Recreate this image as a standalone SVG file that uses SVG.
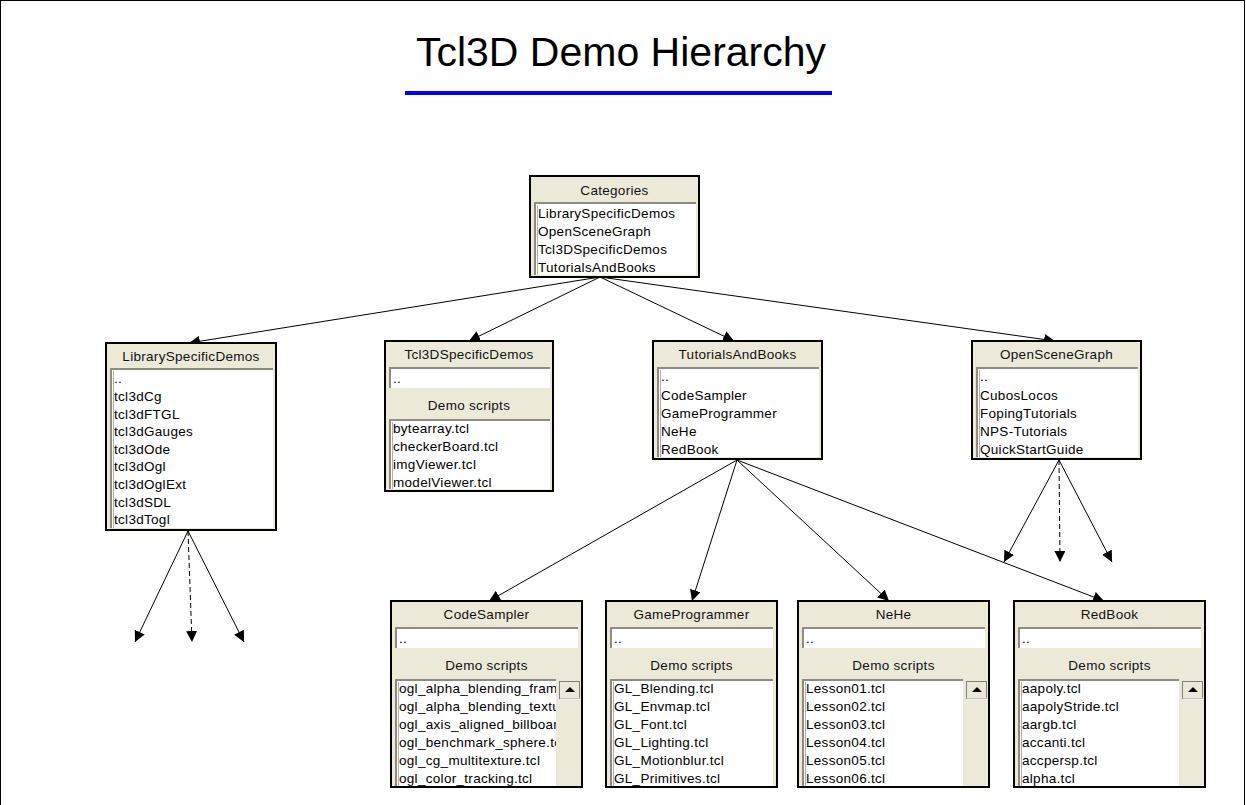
<svg xmlns="http://www.w3.org/2000/svg" width="1246" height="805" viewBox="0 0 1246 805">
<style>
.frame{fill:#fff;stroke:#000;stroke-width:1}
.box{fill:#ECE9D8;stroke:#000;stroke-width:2}
.lb{fill:#fff}
.sk{fill:none;stroke:#8E8C82;stroke-width:2}
.sk2{fill:none;stroke:#B5B2A5;stroke-width:1}
.t{font-family:"Liberation Sans",Arial,sans-serif;font-size:13.5px;letter-spacing:0.3px;fill:#000}
.h{text-anchor:middle;fill:#111}
.title{font-family:"Liberation Sans",Arial,sans-serif;font-size:41px;fill:#000;text-anchor:middle}
.c{fill:none;stroke:#000;stroke-width:1}
.d{stroke-dasharray:5,3}
.sb{fill:#ECE9D8}
.btn{fill:#ECE9D8;stroke:#808080;stroke-width:1}
</style>
<defs>
<marker id="ah" viewBox="0 0 10 10" refX="10" refY="5" markerWidth="11" markerHeight="11" markerUnits="userSpaceOnUse" orient="auto">
<path d="M0,0 L10,5 L0,10 z" fill="#000"/>
</marker>
<clipPath id="clCS"><rect x="396" y="680" width="160" height="106"/></clipPath>
<clipPath id="clNH"><rect x="803" y="680" width="160" height="106"/></clipPath>
<clipPath id="clRB"><rect x="1019" y="680" width="160" height="106"/></clipPath>
</defs>
<rect class="frame" x="0.5" y="0.5" width="1244" height="830"/>
<g id="title">
<text class="title" x="621" y="66">Tcl3D Demo Hierarchy</text>
<line x1="405" y1="93" x2="832" y2="93" stroke="#0000FF" stroke-width="4"/>
</g>

<g id="connectors">
<line class="c" x1="600" y1="277" x2="189" y2="343" marker-end="url(#ah)"/>
<line class="c" x1="600" y1="277" x2="469" y2="341" marker-end="url(#ah)"/>
<line class="c" x1="600" y1="277" x2="734" y2="341" marker-end="url(#ah)"/>
<line class="c" x1="600" y1="277" x2="1055" y2="341" marker-end="url(#ah)"/>
<line class="c" x1="737" y1="460" x2="489" y2="601" marker-end="url(#ah)"/>
<line class="c" x1="737" y1="460" x2="692" y2="601" marker-end="url(#ah)"/>
<line class="c" x1="737" y1="460" x2="889" y2="601" marker-end="url(#ah)"/>
<line class="c" x1="737" y1="460" x2="1104" y2="601" marker-end="url(#ah)"/>
<line class="c" x1="188" y1="531" x2="135" y2="642" marker-end="url(#ah)"/>
<line class="c d" x1="188" y1="531" x2="192" y2="642" marker-end="url(#ah)"/>
<line class="c" x1="188" y1="531" x2="244" y2="642" marker-end="url(#ah)"/>
<line class="c" x1="1059" y1="460" x2="1004" y2="562" marker-end="url(#ah)"/>
<line class="c d" x1="1059" y1="460" x2="1060" y2="562" marker-end="url(#ah)"/>
<line class="c" x1="1059" y1="460" x2="1112" y2="562" marker-end="url(#ah)"/>
</g>

<g id="Categories">
<rect class="box" x="530" y="176" width="169" height="101"/>
<text class="t h" x="614.5" y="195">Categories</text>
<rect class="lb" x="534" y="202" width="162" height="73"/>
<path class="sk" d="M535,275 V203 H696"/>
<path class="sk2" d="M537.5,275 V205"/>
<text class="t" x="538" y="218">LibrarySpecificDemos</text>
<text class="t" x="538" y="236">OpenSceneGraph</text>
<text class="t" x="538" y="254">Tcl3DSpecificDemos</text>
<text class="t" x="538" y="272">TutorialsAndBooks</text>
</g>

<g id="LibrarySpecificDemos">
<rect class="box" x="106" y="343" width="170" height="187"/>
<text class="t h" x="191" y="361">LibrarySpecificDemos</text>
<rect class="lb" x="110" y="368" width="163" height="160"/>
<path class="sk" d="M111,528 V369 H273"/>
<path class="sk2" d="M113.5,528 V371"/>
<text class="t" x="114" y="383">..</text>
<text class="t" x="114" y="401">tcl3dCg</text>
<text class="t" x="114" y="418.6">tcl3dFTGL</text>
<text class="t" x="114" y="436.2">tcl3dGauges</text>
<text class="t" x="114" y="453.8">tcl3dOde</text>
<text class="t" x="114" y="471.4">tcl3dOgl</text>
<text class="t" x="114" y="489">tcl3dOglExt</text>
<text class="t" x="114" y="506.6">tcl3dSDL</text>
<text class="t" x="114" y="524.2">tcl3dTogl</text>
</g>

<g id="Tcl3DSpecificDemos">
<rect class="box" x="385" y="341" width="168" height="150"/>
<text class="t h" x="469" y="359">Tcl3DSpecificDemos</text>
<rect class="lb" x="389" y="367" width="161" height="21"/>
<path class="sk" d="M390,388 V368 H550"/>
<text class="t" x="393" y="383">..</text>
<text class="t h" x="469" y="410">Demo scripts</text>
<rect class="lb" x="389" y="419" width="161" height="70"/>
<path class="sk" d="M390,489 V420 H550"/>
<path class="sk2" d="M392.5,489 V422"/>
<text class="t" x="393" y="433">bytearray.tcl</text>
<text class="t" x="393" y="451">checkerBoard.tcl</text>
<text class="t" x="393" y="469">imgViewer.tcl</text>
<text class="t" x="393" y="487">modelViewer.tcl</text>
</g>

<g id="TutorialsAndBooks">
<rect class="box" x="653" y="341" width="169" height="118"/>
<text class="t h" x="737.5" y="359">TutorialsAndBooks</text>
<rect class="lb" x="657" y="367" width="162" height="90"/>
<path class="sk" d="M658,457 V368 H819"/>
<path class="sk2" d="M660.5,457 V370"/>
<text class="t" x="661" y="381">..</text>
<text class="t" x="661" y="399.5">CodeSampler</text>
<text class="t" x="661" y="417.5">GameProgrammer</text>
<text class="t" x="661" y="435.5">NeHe</text>
<text class="t" x="661" y="453.5">RedBook</text>
</g>

<g id="OpenSceneGraph">
<rect class="box" x="972" y="341" width="169" height="118"/>
<text class="t h" x="1056.5" y="359">OpenSceneGraph</text>
<rect class="lb" x="976" y="367" width="162" height="90"/>
<path class="sk" d="M977,457 V368 H1138"/>
<path class="sk2" d="M979.5,457 V370"/>
<text class="t" x="980" y="381">..</text>
<text class="t" x="980" y="399.5">CubosLocos</text>
<text class="t" x="980" y="417.5">FopingTutorials</text>
<text class="t" x="980" y="435.5">NPS-Tutorials</text>
<text class="t" x="980" y="453.5">QuickStartGuide</text>
</g>

<g id="CodeSampler">
<rect class="box" x="391" y="601" width="191" height="186"/>
<text class="t h" x="486.5" y="619">CodeSampler</text>
<rect class="lb" x="395" y="627" width="183" height="21"/>
<path class="sk" d="M396,648 V628 H578"/>
<text class="t" x="399" y="643">..</text>
<text class="t h" x="486.5" y="670">Demo scripts</text>
<rect class="lb" x="395" y="679" width="161" height="107"/>
<path class="sk" d="M396,786 V680 H556"/>
<path class="sk2" d="M398.5,786 V682"/>
<g clip-path="url(#clCS)">
<text class="t" x="399" y="692.5">ogl_alpha_blending_frame.tcl</text>
<text class="t" x="399" y="710.5">ogl_alpha_blending_texture.tcl</text>
<text class="t" x="399" y="728.5">ogl_axis_aligned_billboard.tcl</text>
<text class="t" x="399" y="746.5">ogl_benchmark_sphere.tcl</text>
<text class="t" x="399" y="764.5">ogl_cg_multitexture.tcl</text>
<text class="t" x="399" y="782.5">ogl_color_tracking.tcl</text>
</g>
<rect class="sb" x="558" y="679" width="23" height="107"/>
<rect class="btn" x="559.5" y="681.5" width="20" height="17"/>
<path d="M565,692 L570,687 L575,692 z" fill="#000"/>
<line x1="560" y1="699" x2="580" y2="699" stroke="#fff"/>
</g>

<g id="GameProgrammer">
<rect class="box" x="606" y="601" width="171" height="186"/>
<text class="t h" x="691.5" y="619">GameProgrammer</text>
<rect class="lb" x="610" y="627" width="163" height="21"/>
<path class="sk" d="M611,648 V628 H773"/>
<text class="t" x="614" y="643">..</text>
<text class="t h" x="691.5" y="670">Demo scripts</text>
<rect class="lb" x="610" y="679" width="163" height="107"/>
<path class="sk" d="M611,786 V680 H773"/>
<path class="sk2" d="M613.5,786 V682"/>
<text class="t" x="614" y="692.5">GL_Blending.tcl</text>
<text class="t" x="614" y="710.5">GL_Envmap.tcl</text>
<text class="t" x="614" y="728.5">GL_Font.tcl</text>
<text class="t" x="614" y="746.5">GL_Lighting.tcl</text>
<text class="t" x="614" y="764.5">GL_Motionblur.tcl</text>
<text class="t" x="614" y="782.5">GL_Primitives.tcl</text>
</g>

<g id="NeHe">
<rect class="box" x="798" y="601" width="191" height="186"/>
<text class="t h" x="893.5" y="619">NeHe</text>
<rect class="lb" x="802" y="627" width="183" height="21"/>
<path class="sk" d="M803,648 V628 H985"/>
<text class="t" x="806" y="643">..</text>
<text class="t h" x="893.5" y="670">Demo scripts</text>
<rect class="lb" x="802" y="679" width="161" height="107"/>
<path class="sk" d="M803,786 V680 H963"/>
<path class="sk2" d="M805.5,786 V682"/>
<g clip-path="url(#clNH)">
<text class="t" x="806" y="692.5">Lesson01.tcl</text>
<text class="t" x="806" y="710.5">Lesson02.tcl</text>
<text class="t" x="806" y="728.5">Lesson03.tcl</text>
<text class="t" x="806" y="746.5">Lesson04.tcl</text>
<text class="t" x="806" y="764.5">Lesson05.tcl</text>
<text class="t" x="806" y="782.5">Lesson06.tcl</text>
</g>
<rect class="sb" x="965" y="679" width="23" height="107"/>
<rect class="btn" x="966.5" y="681.5" width="20" height="17"/>
<path d="M972,692 L977,687 L982,692 z" fill="#000"/>
<line x1="967" y1="699" x2="987" y2="699" stroke="#fff"/>
</g>

<g id="RedBook">
<rect class="box" x="1014" y="601" width="191" height="186"/>
<text class="t h" x="1109.5" y="619">RedBook</text>
<rect class="lb" x="1018" y="627" width="183" height="21"/>
<path class="sk" d="M1019,648 V628 H1201"/>
<text class="t" x="1022" y="643">..</text>
<text class="t h" x="1109.5" y="670">Demo scripts</text>
<rect class="lb" x="1018" y="679" width="161" height="107"/>
<path class="sk" d="M1019,786 V680 H1179"/>
<path class="sk2" d="M1021.5,786 V682"/>
<g clip-path="url(#clRB)">
<text class="t" x="1022" y="692.5">aapoly.tcl</text>
<text class="t" x="1022" y="710.5">aapolyStride.tcl</text>
<text class="t" x="1022" y="728.5">aargb.tcl</text>
<text class="t" x="1022" y="746.5">accanti.tcl</text>
<text class="t" x="1022" y="764.5">accpersp.tcl</text>
<text class="t" x="1022" y="782.5">alpha.tcl</text>
</g>
<rect class="sb" x="1181" y="679" width="23" height="107"/>
<rect class="btn" x="1182.5" y="681.5" width="20" height="17"/>
<path d="M1188,692 L1193,687 L1198,692 z" fill="#000"/>
<line x1="1183" y1="699" x2="1203" y2="699" stroke="#fff"/>
</g>
</svg>
